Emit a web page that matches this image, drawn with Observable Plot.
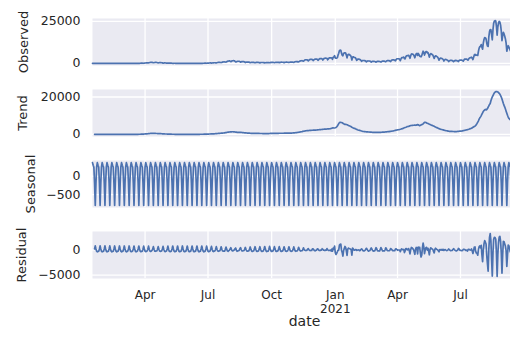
<!DOCTYPE html>
<html>
<head>
<meta charset="utf-8">
<script src="https://cdn.jsdelivr.net/npm/d3@7"></script>
<script src="https://cdn.jsdelivr.net/npm/@observablehq/plot@0.6"></script>
<style>
  html, body { margin: 0; padding: 0; background: #fff; }
  #chart { position: relative; width: 510px; height: 338px; overflow: hidden; }
  #chart svg { position: absolute; left: 0; overflow: visible; max-width: none !important; }
</style>
</head>
<body>
<div id="chart"></div>
<script>
// Daily observed values (first day 2020-01-16, Thursday); rows are Mon..Sun weeks
const startDate = "2020-01-16";
const observed = [
  1,0,0,0,
  0,0,1,1,2,0,1,
  0,2,3,3,3,1,1,
  2,1,2,3,2,1,1,
  2,3,4,5,8,9,5,
  5,8,10,12,14,16,12,
  10,12,14,16,18,20,11,
  16,18,24,30,32,38,26,
  28,40,46,52,44,50,38,
  28,36,42,44,40,50,40,
  34,50,68,96,110,120,80,
  120,180,230,260,300,310,270,
  320,350,500,550,580,650,480,
  380,450,520,580,560,520,380,
  280,350,420,440,400,360,280,
  180,200,260,240,220,200,160,
  100,90,110,120,100,90,60,
  40,50,60,60,50,40,30,
  20,28,30,40,30,25,20,
  18,25,35,40,36,40,38,
  28,40,45,50,45,42,47,
  20,38,40,46,48,45,47,
  30,40,44,48,55,50,50,
  40,50,65,75,90,100,110,
  80,120,150,200,220,240,250,
  150,210,280,340,380,360,300,
  260,380,500,600,640,620,500,
  480,600,780,860,820,850,820,
  720,1000,1200,1300,1400,1500,1300,
  1000,1250,1500,1550,1600,1550,1300,
  800,900,1100,1250,1250,1200,1100,
  700,900,1050,1100,1050,1000,800,
  500,650,780,800,780,720,600,
  400,500,600,620,620,580,480,
  360,460,540,560,560,540,440,
  320,420,500,520,500,480,420,
  300,380,430,440,440,420,390,
  360,480,560,580,580,560,520,
  400,520,600,620,620,600,560,
  440,560,640,680,660,650,580,
  450,580,670,700,690,670,580,
  500,640,750,790,780,760,680,
  600,780,950,1000,1020,1050,900,
  850,1150,1400,1500,1550,1600,1400,
  1300,1650,2000,2150,2150,2100,1950,
  1500,1900,2250,2400,2400,2350,2250,
  1650,2050,2400,2500,2550,2550,2400,
  1800,2250,2650,2800,2850,2800,2700,
  2000,2500,2950,3050,3100,3050,2950,
  2150,2650,3150,3300,3300,3200,3250,
  2400,3600,3800,4520,3260,3060,3150,
  3300,4900,6000,7570,7880,7790,6090,
  4880,4540,5800,6200,6300,6100,4900,
  3300,4900,5400,5300,5000,4700,3900,
  2000,3800,3900,3600,3500,3300,2700,
  1800,2300,2600,2600,2300,2200,1800,
  1200,1600,1700,1700,1600,1600,1350,
  900,1300,1450,1400,1400,1350,1150,
  750,1080,1200,1200,1150,1100,960,
  700,1050,1150,1200,1180,1100,950,
  800,1150,1300,1330,1300,1280,1100,
  950,1400,1600,1650,1600,1600,1300,
  1100,1700,2000,2050,2050,2100,1750,
  1550,2300,2700,2750,2750,2750,2400,
  1600,2700,3450,3450,3550,3700,2800,
  2700,3900,4500,4550,4550,4800,4100,
  3000,4500,5500,5600,5400,5200,4400,
  3300,4800,5700,5900,4700,5900,5100,
  4400,4100,3900,4600,6050,7240,6480,
  4900,6230,7040,7040,6260,6400,5250,
  3700,5200,5800,5600,5300,5000,4000,
  2900,4000,4500,4300,4000,3700,2900,
  1900,2800,3100,3000,3000,2700,2300,
  1400,2000,2400,2300,2100,2000,1600,
  1100,1500,1800,1800,1750,1700,1400,
  1000,1400,1700,1750,1600,1650,1350,
  1100,1650,1900,2000,1950,1900,1600,
  1300,2000,2500,2600,2500,2600,2100,
  1900,2700,3200,3400,3400,3700,3100,
  2300,3700,5000,5400,4800,4900,5000,
  4700,7200,9100,10000,10100,11200,9600,
  8400,12000,14200,15300,15200,14500,12000,
  10300,10100,15800,18900,20100,20000,17000,
  14000,20000,23900,25100,25400,25200,22000,
  16800,21600,24100,24900,24500,22700,19200,
  13500,16500,18500,17500,16100,14500,12000,
  7200,9000,10500,9700,8800,7700,6800,
  5000,6400,7000,6500,6000,5200,4500,
  3500
];
const period = 7;

// Axis ticks and labels
const xTicks = ["2020-04-01", "2020-07-01", "2020-10-01", "2021-01-01", "2021-04-01", "2021-07-01"];
const xTickLabels = ["Apr", "Jul", "Oct", "Jan", "Apr", "Jul"];
const xTickSubLabels = ["", "", "", "2021", "", ""];
const xLabel = "date";
const observedTicks = [0, 25000];
const trendTicks = [0, 20000];
const seasonalTicks = [-500, 0];
const residualTicks = [-5000, 0];
const panelLabels = ["Observed", "Trend", "Seasonal", "Residual"];

// Additive seasonal decomposition (centered moving average, as statsmodels)
const n = observed.length;
const half = Math.floor(period / 2);
const t0 = new Date(startDate + "T00:00:00Z");
const dates = observed.map((_, i) => new Date(+t0 + i * 86400000));
const trend = observed.map((_, i) => (i < half || i >= n - half) ? NaN : d3.mean(observed.slice(i - half, i + half + 1)));
const detrended = observed.map((v, i) => v - trend[i]);
const periodAvg = d3.range(period).map(k => d3.mean(detrended.filter((v, i) => i % period === k && !isNaN(v))));
const avgMean = d3.mean(periodAvg);
const seasonal = observed.map((_, i) => periodAvg[i % period] - avgMean);
const residual = observed.map((v, i) => v - trend[i] - seasonal[i]);

const xTickDates = xTicks.map(s => new Date(s + "T00:00:00Z"));
const tickRows = xTickDates.map((d, i) => ({date: d, main: xTickLabels[i], sub: xTickSubLabels[i]}));
const pad = ([lo, hi]) => [lo - 0.05 * (hi - lo), hi + 0.05 * (hi - lo)];

const W = 516, ML = 92, PH = 47, MT = 10;
const ink = "#262626";
const panels = [
  {values: observed, ticks: observedTicks, label: panelLabels[0], top: 18, labelX: 23.5},
  {values: trend, ticks: trendTicks, label: panelLabels[1], top: 89, labelX: 22.5},
  {values: seasonal, ticks: seasonalTicks, label: panelLabels[2], top: 160, labelX: 30},
  {values: residual, ticks: residualTicks, label: panelLabels[3], top: 231, labelX: 21, showX: true}
];

const chart = document.getElementById("chart");
for (const p of panels) {
  const rows = p.values.map((v, i) => ({date: dates[i], value: v}));
  const MB = p.showX ? 60 : 10;
  const svg = Plot.plot({
    width: W,
    height: PH + MT + MB,
    marginLeft: ML, marginRight: 0, marginTop: MT, marginBottom: MB,
    style: {fontFamily: "DejaVu Sans", fontSize: "12.5px", color: ink, background: "transparent", overflow: "visible", maxWidth: "none"},
    x: {type: "utc", domain: [dates[0], dates[n - 1]], axis: null},
    y: {domain: pad(d3.extent(p.values.filter(v => !isNaN(v)))), axis: null},
    marks: [
      Plot.frame({fill: "#EAEAF2", stroke: null}),
      Plot.gridX(xTickDates, {stroke: "white", strokeOpacity: 1, strokeWidth: 1.3}),
      Plot.gridY(p.ticks, {stroke: "white", strokeOpacity: 1, strokeWidth: 1.3}),
      Plot.line(rows, {x: "date", y: "value", stroke: "#4C72B0", strokeWidth: 1.7}),
      Plot.axisY(p.ticks, {tickSize: 0, tickPadding: 12, tickFormat: d3.format("d"), label: null, fontSize: 12.5, fill: ink}),
      Plot.text([p.label], {frameAnchor: "left", dx: p.labelX - ML, rotate: -90, textAnchor: "middle", lineAnchor: "middle", fontSize: 13, fill: ink}),
      ...(p.showX ? [
        Plot.text(tickRows, {x: "date", text: "main", frameAnchor: "bottom", dy: 12, lineAnchor: "top", textAnchor: "middle", fontSize: 12, fill: ink}),
        Plot.text(tickRows.filter(r => r.sub !== ""), {x: "date", text: "sub", frameAnchor: "bottom", dy: 26, lineAnchor: "top", textAnchor: "middle", fontSize: 12, fill: ink}),
        Plot.text([xLabel], {frameAnchor: "bottom", dy: 43, textAnchor: "middle", lineAnchor: "middle", fontSize: 14, fill: ink})
      ] : [])
    ]
  });
  svg.style.top = (p.top - MT) + "px";
  chart.appendChild(svg);
}
</script>
</body>
</html>
